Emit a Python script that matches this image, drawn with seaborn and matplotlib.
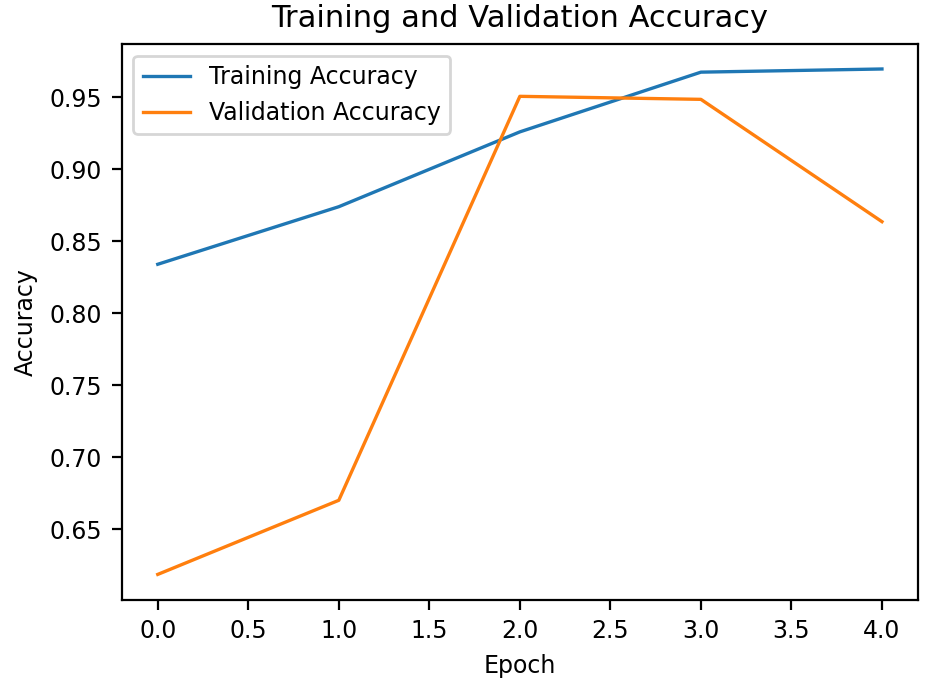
import matplotlib
matplotlib.use("Agg")
import matplotlib.pyplot as plt
import seaborn as sns

epochs = [0, 1, 2, 3, 4]
train_acc = [0.834, 0.874, 0.926, 0.9675, 0.9697]
val_acc = [0.6185, 0.670, 0.9507, 0.9486, 0.8636]

fig, ax = plt.subplots(figsize=(4.675, 3.415), dpi=200)
sns.lineplot(x=epochs, y=train_acc, ax=ax, label="Training Accuracy", color="#1f77b4", linewidth=1.2)
sns.lineplot(x=epochs, y=val_acc, ax=ax, label="Validation Accuracy", color="#ff7f0e", linewidth=1.2)
ax.set_title("Training and Validation Accuracy", fontsize=11)
ax.set_xlabel("Epoch", fontsize=8.5)
ax.set_ylabel("Accuracy", fontsize=8.5)
ax.tick_params(labelsize=8.5)
ax.legend(loc="upper left", fontsize=8.5)
fig.subplots_adjust(left=0.13, right=0.982, top=0.936, bottom=0.122)
fig.savefig("out.png", dpi=200)
